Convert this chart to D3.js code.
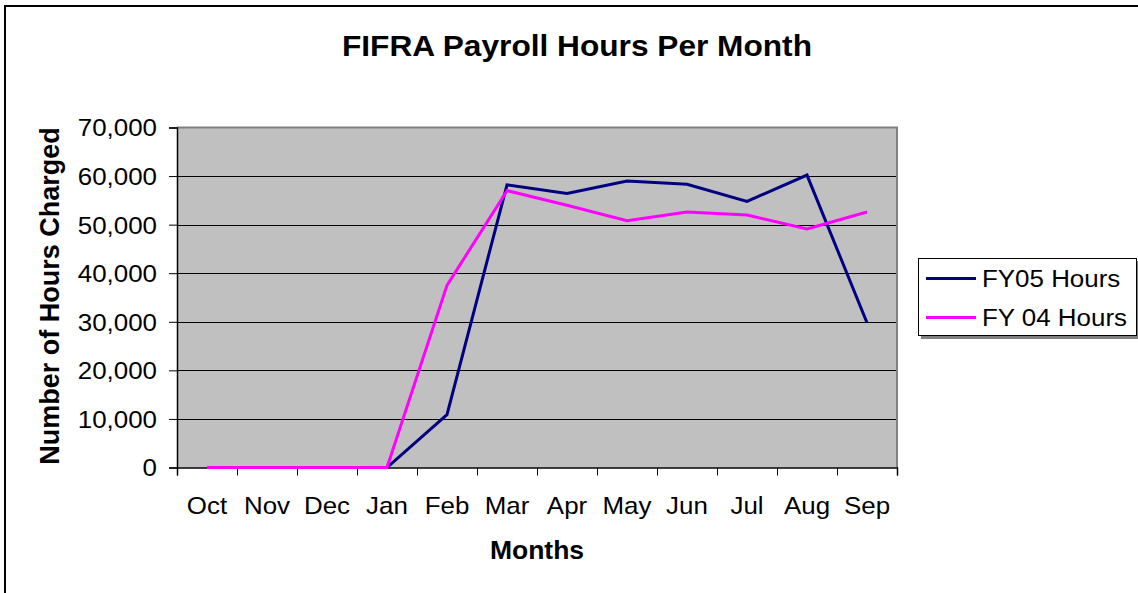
<!DOCTYPE html>
<html>
<head>
<meta charset="utf-8">
<script src="https://cdn.jsdelivr.net/npm/d3@7"></script>
<style>
  html, body { margin: 0; padding: 0; background: #fff; }
  svg { display: block; font-family: "Liberation Sans", Arial, sans-serif; }
</style>
</head>
<body>
<svg id="chart" width="1138" height="593"></svg>
<script>
const months = ["Oct","Nov","Dec","Jan","Feb","Mar","Apr","May","Jun","Jul","Aug","Sep"];
const fy05 = [0, 0, 0, 0, 10900, 58200, 56400, 59000, 58300, 54800, 60200, 29800];
const fy04 = [0, 0, 0, 0, 37500, 57000, 54000, 50800, 52600, 52000, 49100, 52600];
const yTicks = [0, 10000, 20000, 30000, 40000, 50000, 60000, 70000];
const seriesNames = ["FY05 Hours", "FY 04 Hours"];
const seriesColors = ["#000080", "#ff00ff"];
const title = "FIFRA Payroll Hours Per Month";
const xTitle = "Months";
const yTitle = "Number of Hours Charged";

const svg = d3.select("#chart");
const SX = 1.08;
const FS = 24;

function stext(parent, x, y, str, size, weight, anchor, sx) {
  const g = parent.append("g").attr("transform", `translate(${x},${y}) scale(${sx},1)`);
  g.append("text").attr("x", 0).attr("y", 0)
    .attr("font-size", size).attr("font-weight", weight)
    .attr("text-anchor", anchor).attr("fill", "#000").text(str);
  return g;
}

// outer frame
svg.append("rect").attr("x", 5).attr("y", 6).attr("width", 1300).attr("height", 800)
  .attr("fill", "#fff").attr("stroke", "#000").attr("stroke-width", 2);

const L = 177, R = 897, T = 127.5, B = 467.5;
const x = d3.scaleBand().domain(months).range([L, R]).padding(0);
const xEdge = d3.scaleLinear().domain([0, months.length]).range([L, R]);
const y = d3.scaleLinear().domain([0, 70000]).range([B, T]);

// plot background
svg.append("rect").attr("x", L).attr("y", T).attr("width", R - L).attr("height", B - T)
  .attr("fill", "#c0c0c0");

// gridlines
svg.append("g").selectAll("line").data(yTicks.filter(d => d > 0 && d < 70000)).join("line")
  .attr("x1", L).attr("x2", R)
  .attr("y1", d => Math.round(y(d)) + 0.5).attr("y2", d => Math.round(y(d)) + 0.5)
  .attr("stroke", "#000").attr("stroke-width", 1);

// plot border top/right
svg.append("path").attr("d", `M${L},${T}H${R}V${B}`)
  .attr("fill", "none").attr("stroke", "#808080").attr("stroke-width", 2);

// y axis
const yAxis = svg.append("g").attr("transform", `translate(${L},0)`)
  .call(d3.axisLeft(y).tickValues(yTicks).tickSize(8).tickPadding(12).tickFormat(d3.format(",")));
yAxis.select(".domain").attr("stroke", "#000").attr("stroke-width", 1.5);
yAxis.selectAll(".tick line").attr("stroke", "#000");
yAxis.selectAll(".tick text").attr("font-size", FS).attr("fill", "#000")
  .attr("font-family", "'Liberation Sans', Arial, sans-serif")
  .attr("transform", `scale(${SX},1)`).attr("x", -20 / SX).attr("dy", "0.35em");

// x axis boundary ticks
const xAxisEdges = svg.append("g").attr("transform", `translate(0,${B})`)
  .call(d3.axisBottom(xEdge).tickValues(d3.range(0, months.length + 1)).tickSize(8).tickFormat(""));
xAxisEdges.select(".domain").attr("stroke", "#000").attr("stroke-width", 1.5);
xAxisEdges.selectAll(".tick line").attr("stroke", "#000");

// x labels
const xAxis = svg.append("g").attr("transform", `translate(0,${B})`)
  .call(d3.axisBottom(x).tickSize(0).tickPadding(29));
xAxis.select(".domain").remove();
xAxis.selectAll(".tick text").attr("font-size", FS).attr("fill", "#000")
  .attr("font-family", "'Liberation Sans', Arial, sans-serif")
  .attr("transform", `scale(${SX},1)`).attr("dy", "0.71em");

// lines
const line = d3.line().x((d, i) => x(months[i]) + x.bandwidth() / 2).y(d => y(d));
[fy05, fy04].forEach((s, i) => {
  svg.append("path").datum(s).attr("d", line)
    .attr("fill", "none").attr("stroke", seriesColors[i]).attr("stroke-width", 3)
    .attr("stroke-linejoin", "miter");
});

// titles
stext(svg, 577, 56, title, 30, "bold", "middle", 1.055);
stext(svg, 537, 559, xTitle, 26, "bold", "middle", 1.02);
svg.append("text").attr("transform", `translate(59,296) rotate(-90)`)
  .attr("text-anchor", "middle").attr("font-size", 27).attr("font-weight", "bold")
  .attr("fill", "#000").text(yTitle);

// legend
const lg = svg.append("g");
lg.append("rect").attr("x", 921).attr("y", 261).attr("width", 220).attr("height", 78).attr("fill", "#808080");
lg.append("rect").attr("x", 918.5).attr("y", 258.5).attr("width", 218).attr("height", 77)
  .attr("fill", "#fff").attr("stroke", "#000").attr("stroke-width", 1);
const legY = [278.5, 317.5];
seriesNames.forEach((n, i) => {
  lg.append("line").attr("x1", 926).attr("x2", 976).attr("y1", legY[i]).attr("y2", legY[i])
    .attr("stroke", seriesColors[i]).attr("stroke-width", 3);
  stext(lg, 982, legY[i] + 8.5, n, FS, "normal", "start", SX);
});
</script>
</body>
</html>
